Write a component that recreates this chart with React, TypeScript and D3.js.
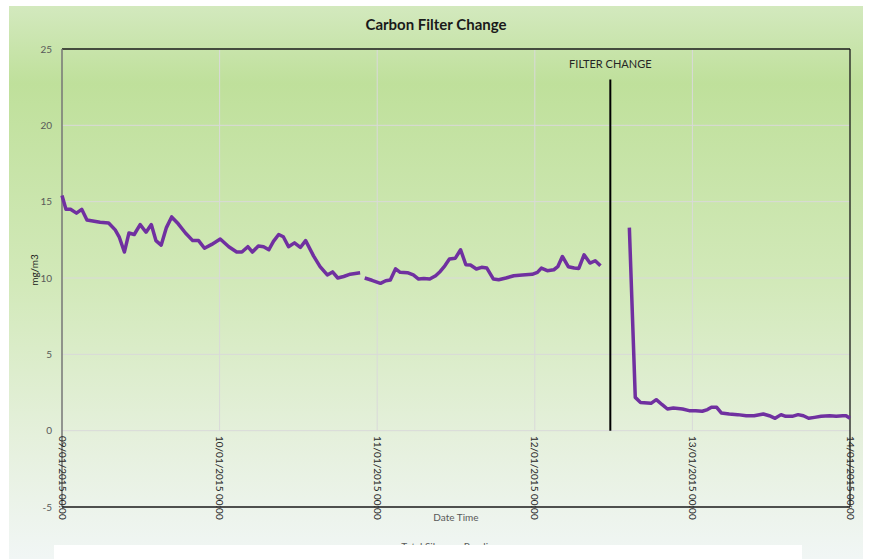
import React, { useEffect, useRef } from 'react';
import * as d3 from 'd3';

// hours after 09/01/2015 00:00, and the reading in mg/m3
const seg1Hours = [0, 0.6, 1.3, 2.2, 3.0, 3.8, 5.8, 7.1, 8.1, 8.7, 9.5, 10.2, 11.0, 11.9, 12.8, 13.6, 14.3, 15.1, 15.9, 16.7, 17.7, 18.8, 19.9, 20.8, 21.7, 22.8, 24.1, 25.4, 26.6, 27.4, 28.3, 29.0, 29.9, 30.7, 31.5, 32.2, 33.0, 33.7, 34.5, 35.4, 36.3, 37.1, 38.3, 39.3, 40.4, 41.2, 42.0, 42.9, 43.9, 45.4];
const seg1Values = [15.4, 14.5, 14.5, 14.25, 14.5, 13.8, 13.65, 13.6, 13.15, 12.7, 11.7, 12.95, 12.85, 13.5, 13.0, 13.5, 12.45, 12.15, 13.3, 14.0, 13.55, 12.95, 12.45, 12.45, 11.95, 12.2, 12.55, 12.05, 11.7, 11.7, 12.05, 11.7, 12.1, 12.05, 11.85, 12.4, 12.85, 12.7, 12.05, 12.3, 12.0, 12.45, 11.45, 10.75, 10.2, 10.4, 10.0, 10.1, 10.25, 10.35];

const seg2Hours = [46.1, 47.2, 48.5, 49.3, 50.0, 50.8, 51.5, 52.6, 53.5, 54.3, 55.1, 56.0, 56.9, 57.6, 58.3, 59.0, 59.9, 60.7, 61.5, 62.2, 63.1, 63.9, 64.7, 65.7, 66.5, 67.6, 68.8, 70.1, 71.6, 72.4, 73.0, 73.9, 74.9, 75.5, 76.2, 77.1, 78.0, 78.7, 79.5, 80.4, 81.2, 82.0];
const seg2Values = [10.0, 9.85, 9.65, 9.82, 9.87, 10.6, 10.37, 10.35, 10.2, 9.93, 9.97, 9.93, 10.15, 10.43, 10.8, 11.24, 11.3, 11.85, 10.87, 10.85, 10.59, 10.7, 10.65, 9.93, 9.89, 10.0, 10.15, 10.2, 10.24, 10.37, 10.65, 10.48, 10.54, 10.74, 11.41, 10.74, 10.65, 10.63, 11.52, 10.98, 11.13, 10.8];

const seg3Hours = [86.4, 87.3, 88.1, 89.7, 90.5, 91.4, 92.2, 93.1, 94.5, 95.5, 96.5, 97.5, 98.3, 98.9, 99.7, 100.4, 101.6, 102.9, 104.2, 105.4, 106.8, 107.7, 108.6, 109.5, 110.2, 111.2, 112.1, 112.9, 113.7, 114.6, 115.6, 116.9, 117.9, 118.9, 119.4, 120];
const seg3Values = [13.3, 2.18, 1.85, 1.79, 2.03, 1.7, 1.42, 1.49, 1.42, 1.31, 1.31, 1.27, 1.38, 1.53, 1.53, 1.16, 1.09, 1.05, 0.98, 0.98, 1.09, 0.98, 0.81, 1.05, 0.94, 0.94, 1.05, 0.98, 0.81, 0.87, 0.94, 0.98, 0.94, 0.98, 0.98, 0.81];

const filterChangeHour = 83.5;
const filterChangeLabel = 'FILTER CHANGE';
const yTicks = [-5, 0, 5, 10, 15, 20, 25];

const START = new Date(2015, 0, 9).getTime();
const toDate = (h: number) => new Date(START + h * 3600 * 1000);

const App = () => {
  const ref = useRef<SVGSVGElement>(null);

  useEffect(() => {
    const svg = d3.select(ref.current);
    svg.selectAll('*').remove();

    const width = 869;
    const height = 559;
    const left = 62, right = 850, top = 49, bottom = 507;
    const font = 'Lato, "Open Sans", sans-serif';

    const x = d3.scaleTime()
      .domain([toDate(0), toDate(120)])
      .range([left, right]);
    const y = d3.scaleLinear().domain([-5, 25]).range([bottom, top]);

    // background gradient
    const defs = svg.append('defs');
    const grad = defs.append('linearGradient')
      .attr('id', 'bg-grad')
      .attr('x1', 0).attr('y1', 0).attr('x2', 0).attr('y2', 1);
    [['0%', '#d3e9be'], ['14%', '#bfe09b'], ['50%', '#d2e9b9'], ['78%', '#e5f0dc'], ['100%', '#f1f6f5']]
      .forEach(([o, c]) => grad.append('stop').attr('offset', o).attr('stop-color', c));

    svg.append('rect').attr('width', width).attr('height', height).attr('fill', 'white');
    svg.append('rect')
      .attr('x', 9).attr('y', 6).attr('width', 854).attr('height', height - 6)
      .attr('fill', 'url(#bg-grad)');

    // gridlines
    svg.append('g')
      .selectAll('line')
      .data(yTicks.filter(d => d > -5 && d < 25))
      .join('line')
      .attr('x1', left).attr('x2', right)
      .attr('y1', d => y(d)).attr('y2', d => y(d))
      .attr('stroke', '#d9d9d9').attr('stroke-width', 1);

    const dayTicks = x.ticks(d3.timeDay.every(1));
    svg.append('g')
      .selectAll('line')
      .data(dayTicks.slice(1, -1))
      .join('line')
      .attr('x1', d => x(d)).attr('x2', d => x(d))
      .attr('y1', top).attr('y2', y(0))
      .attr('stroke', '#d9d9d9').attr('stroke-width', 1);

    // frame
    svg.append('line').attr('x1', left).attr('x2', right).attr('y1', top).attr('y2', top)
      .attr('stroke', '#1a1a1a').attr('stroke-width', 1.3);
    svg.append('line').attr('x1', right).attr('x2', right).attr('y1', top).attr('y2', bottom)
      .attr('stroke', '#1a1a1a').attr('stroke-width', 1.3);
    svg.append('line').attr('x1', left).attr('x2', left).attr('y1', top).attr('y2', bottom)
      .attr('stroke', '#767676').attr('stroke-width', 1.5);
    svg.append('line').attr('x1', left).attr('x2', right).attr('y1', bottom).attr('y2', bottom)
      .attr('stroke', '#1a1a1a').attr('stroke-width', 1.5);

    // y tick labels
    svg.append('g')
      .selectAll('text')
      .data(yTicks)
      .join('text')
      .attr('x', 52).attr('y', d => y(d) + 3.5)
      .attr('text-anchor', 'end')
      .attr('font-family', font).attr('font-size', 10)
      .attr('fill', '#595959')
      .text(d => d);

    // x tick labels, rotated
    const fmt = d3.timeFormat('%d/%m/%Y %H:%M');
    svg.append('g')
      .selectAll('text')
      .data(dayTicks)
      .join('text')
      .attr('transform', d => `translate(${x(d) - 3.5},436) rotate(90)`)
      .attr('font-family', font).attr('font-size', 10)
      .attr('fill', '#262626')
      .text(d => fmt(d));

    // data line
    const line = d3.line<[Date, number]>()
      .x(d => x(d[0]))
      .y(d => y(d[1]));
    [[seg1Hours, seg1Values], [seg2Hours, seg2Values], [seg3Hours, seg3Values]].forEach(([hs, vs]) => {
      const pts = hs.map((h, i) => [toDate(h), vs[i]] as [Date, number]);
      svg.append('path')
        .datum(pts)
        .attr('fill', 'none')
        .attr('stroke', '#7030a0')
        .attr('stroke-width', 3.5)
        .attr('stroke-linejoin', 'round')
        .attr('d', line);
    });

    // filter change marker
    const fx = x(toDate(filterChangeHour));
    svg.append('line')
      .attr('x1', fx).attr('x2', fx)
      .attr('y1', y(23)).attr('y2', y(0))
      .attr('stroke', '#000').attr('stroke-width', 2);
    svg.append('text')
      .attr('x', fx).attr('y', 68)
      .attr('text-anchor', 'middle')
      .attr('font-family', font).attr('font-size', 11)
      .attr('fill', '#262626')
      .text(filterChangeLabel);

    // titles
    svg.append('text')
      .attr('x', 436).attr('y', 30)
      .attr('text-anchor', 'middle')
      .attr('font-family', font).attr('font-size', 15).attr('font-weight', 'bold')
      .attr('fill', '#1a1a1a')
      .text('Carbon Filter Change');
    svg.append('text')
      .attr('x', 456).attr('y', 521)
      .attr('text-anchor', 'middle')
      .attr('font-family', font).attr('font-size', 10)
      .attr('fill', '#595959')
      .text('Date Time');
    svg.append('text')
      .attr('transform', 'translate(38,270) rotate(-90)')
      .attr('text-anchor', 'middle')
      .attr('font-family', font).attr('font-size', 10)
      .attr('fill', '#1a1a1a')
      .text('mg/m3');

    // legend, mostly hidden under the white strip
    svg.append('text')
      .attr('x', 450).attr('y', 550)
      .attr('text-anchor', 'middle')
      .attr('font-family', font).attr('font-size', 10)
      .attr('fill', '#595959')
      .text('Total Siloxane Reading');
    svg.append('rect')
      .attr('x', 54).attr('y', 545).attr('width', 748).attr('height', 14)
      .attr('fill', 'white');
  }, []);

  return (
    <svg
      ref={ref}
      width={869}
      height={559}
      style={{ position: 'absolute', left: 0, top: 0, display: 'block' }}
    />
  );
};

export default App;
